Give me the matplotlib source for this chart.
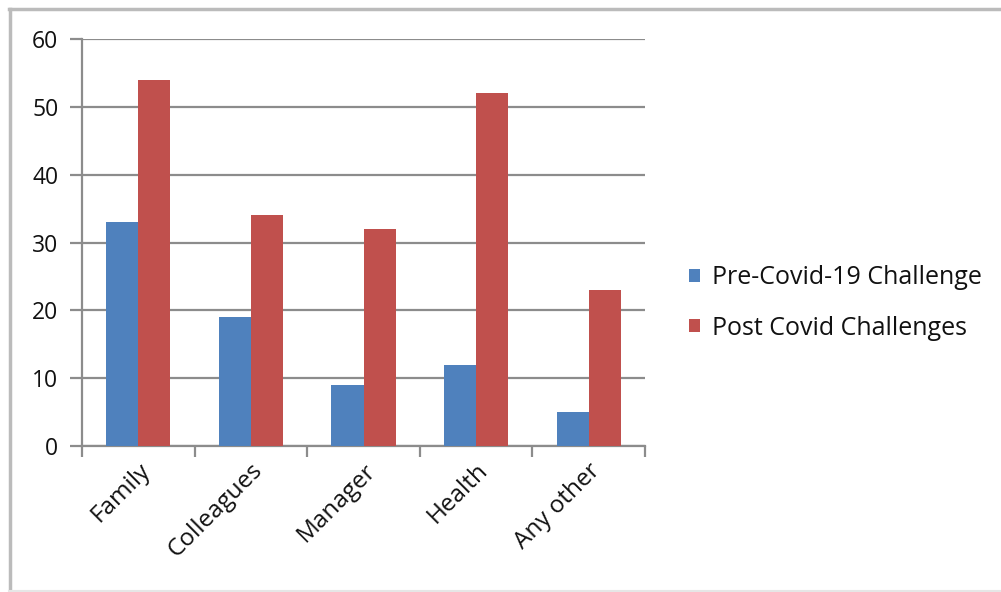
import matplotlib
matplotlib.use("Agg")
import matplotlib.pyplot as plt
from matplotlib.lines import Line2D
import numpy as np

categories = ["Family", "Colleagues", "Manager", "Health", "Any other"]
pre_covid = [33, 19, 9, 12, 5]
post_covid = [54, 34, 32, 52, 23]
series_labels = ["Pre-Covid-19 Challenge", "Post Covid Challenges"]
y_ticks = [0, 10, 20, 30, 40, 50, 60]

blue = "#4F81BD"
red = "#C0504D"
grid_color = "#8C8C8C"
text_color = "#111111"

plt.rcParams["font.family"] = ["Open Sans", "DejaVu Sans"]

W, H = 1001, 592
fig = plt.figure(figsize=(W / 100, H / 100), dpi=100)
ax = fig.add_axes([82 / W, 1 - 446 / H, (645 - 82) / W, (446 - 39) / H])

x = np.arange(len(categories))
bw = 0.285
ax.bar(x - bw / 2, pre_covid, width=bw, color=blue, label=series_labels[0], zorder=3)
ax.bar(x + bw / 2, post_covid, width=bw, color=red, label=series_labels[1], zorder=3)

ax.set_xlim(-0.5, len(categories) - 0.5)
ax.set_ylim(0, 60)
ax.set_yticks(y_ticks)
ax.set_yticklabels([str(v) for v in y_ticks], fontsize=16.5, color=text_color)
ax.yaxis.grid(True, color=grid_color, linewidth=1.6, zorder=0)
ax.set_axisbelow(True)

# category boundary ticks on the x axis
ax.set_xticks(np.arange(len(categories) + 1) - 0.5)
ax.set_xticklabels([])
ax.set_xticks(x, minor=True)
ax.set_xticklabels(categories, minor=True, rotation=45, ha="right",
                   rotation_mode="anchor", fontsize=17.5, color=text_color)
ax.tick_params(axis="x", which="minor", length=0, pad=9)
ax.tick_params(axis="x", which="major", length=8, width=1.6, color=grid_color)
ax.tick_params(axis="y", length=9, width=1.6, color=grid_color, pad=8)

for s in ["top", "right"]:
    ax.spines[s].set_visible(False)
for s in ["left", "bottom"]:
    ax.spines[s].set_color(grid_color)
    ax.spines[s].set_linewidth(1.6)

leg = fig.legend(loc="center left", bbox_to_anchor=(689 / W, 1 - 303 / H),
                 frameon=False, fontsize=18, handlelength=0.42, handleheight=0.42,
                 handletextpad=0.5, labelspacing=1.02, borderpad=0, borderaxespad=0)
for t in leg.get_texts():
    t.set_color(text_color)

# outer chart border
border = "#BBBBBB"
fig.add_artist(Line2D([9 / W, 1], [1 - 8.5 / H, 1 - 8.5 / H], color=border, lw=2.5))
fig.add_artist(Line2D([9.5 / W, 9.5 / W], [0, 1 - 8.5 / H], color=border, lw=2.5))
fig.add_artist(Line2D([9 / W, 1], [0.8 / H, 0.8 / H], color="#E6E6E6", lw=1.5))

fig.savefig("out.png", dpi=100)
